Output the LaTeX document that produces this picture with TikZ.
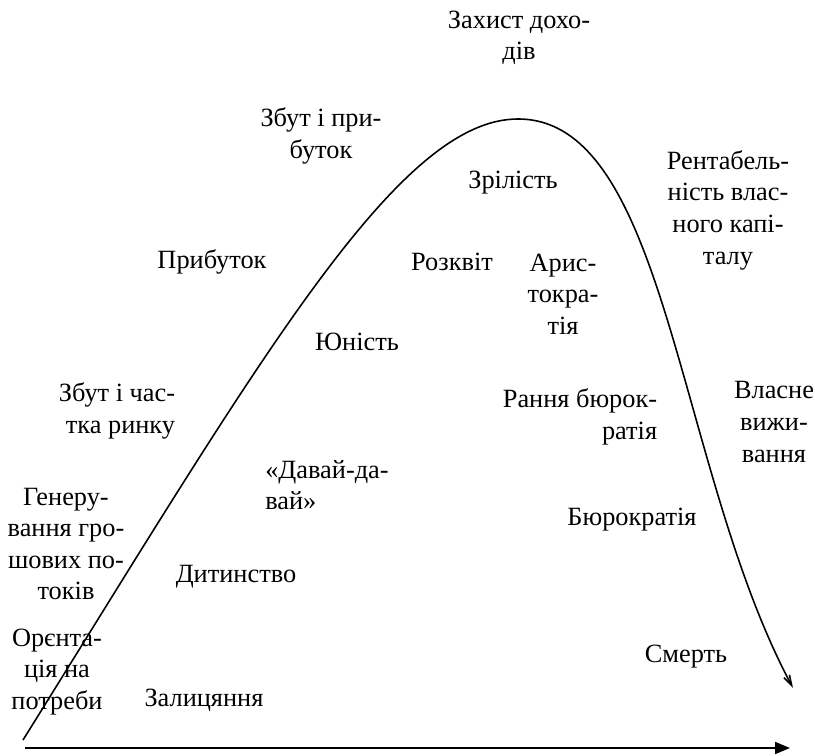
\documentclass[tikz,border=0pt]{standalone}
\usepackage{fontspec}
\setmainfont{Liberation Serif}
\usepackage{tikz}
\usetikzlibrary{arrows.meta}

\begin{document}
\begin{tikzpicture}[x=0.02cm, y=-0.02cm,
  lbl/.style={font=\fontsize{15}{18}\selectfont, align=center, inner sep=0pt},
  lblr/.style={lbl, align=right},
  lbll/.style={lbl, align=left},
  life/.style={line width=0.9pt, -{Straight Barb[length=6pt,width=3.5pt]}},
  taxis/.style={line width=1pt, -{Triangle[length=0.3cm,width=0.24cm]}}]
  \useasboundingbox (0,0) rectangle (815,756);
  \coordinate (birth) at (23,740); \coordinate (peak) at (518,119); \coordinate (death) at (793,688);
  \coordinate (t0) at (25,748); \coordinate (t1) at (790,748);
  \draw[taxis] (t0) -- (t1);
  \draw[life] (birth) .. controls (261,358) and (398,119) .. (peak)
    .. controls (668,119) and (676,469) .. (death);
  \foreach \n/\x/\y/\t in {zal/204/700/Залицяння, dyt/236/577/Дитинство, yun/357/342/Юність,
    rozk/452/262/Розквіт, zril/513/183/Зрілість, bur/632/520/Бюрократія,
    smert/686/657/Смерть, prib/212/262/Прибуток}
    \node[lbl] (\n) at (\x,\y) {\t};
  \node[lbll] (davai) at (327,485) {«Давай-да-\\вай»};
  \node[lbl] (arys) at (563,294) {Арис-\\токра-\\тія};
  \node[lblr] (rbur) at (580,417) {Рання бюрок-\\ратія};
  \node[lbl] (orient) at (57,672) {Орєнта-\\ція на\\потреби};
  \node[lbl] (gen) at (66,544) {Генеру-\\вання гро-\\шових по-\\токів};
  \node[lblr] (zbch) at (117,411) {Збут і час-\\тка ринку};
  \node[lbl] (zbpr) at (321,136) {Збут і при-\\буток};
  \node[lbl] (zah) at (519,38) {Захист дохо-\\дів};
  \node[lbl] (rent) at (728,210) {Рентабель-\\ність влас-\\ного капі-\\талу};
  \node[lbl] (vlas) at (774,422) {Власне\\вижи-\\вання};
\end{tikzpicture}
\end{document}
